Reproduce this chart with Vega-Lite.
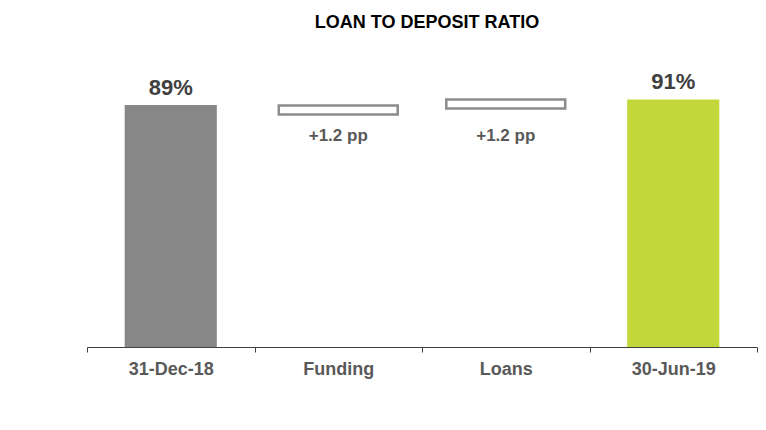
{
  "$schema": "https://vega.github.io/schema/vega-lite/v6.json",
  "width": 670,
  "height": 272,
  "autosize": {"type": "none"},
  "padding": {"left": 87, "right": 9, "top": 75, "bottom": 83},
  "background": "white",
  "title": {
    "text": "LOAN TO DEPOSIT RATIO",
    "font": "Liberation Sans",
    "fontSize": 18,
    "fontWeight": "bold",
    "color": "#000000",
    "anchor": "middle",
    "baseline": "alphabetic",
    "offset": 25,
    "dx": 5
  },
  "config": {"view": {"stroke": null}},
  "data": {
    "values": [
      {"cat": "31-Dec-18", "kind": "total", "lo": 0, "hi": 89, "label": "89%"},
      {"cat": "Funding", "kind": "step", "lo": 85.5, "hi": 88.8, "label": "+1.2 pp"},
      {"cat": "Loans", "kind": "step", "lo": 87.7, "hi": 91.0, "label": "+1.2 pp"},
      {"cat": "30-Jun-19", "kind": "total", "lo": 0, "hi": 91, "label": "91%"}
    ]
  },
  "encoding": {
    "x": {
      "field": "cat",
      "type": "nominal",
      "sort": ["31-Dec-18", "Funding", "Loans", "30-Jun-19"],
      "scale": {"paddingInner": 0, "paddingOuter": 0},
      "axis": {
        "title": null,
        "labelAngle": 0,
        "labelFont": "Liberation Sans",
        "labelFontSize": 18,
        "labelFontWeight": "bold",
        "labelColor": "#595959",
        "labelPadding": 8,
        "tickBand": "extent",
        "tickSize": 5,
        "tickColor": "#404040",
        "domainColor": "#404040",
        "grid": false
      }
    }
  },
  "layer": [
    {
      "transform": [{"filter": "datum.kind === 'total'"}],
      "mark": {"type": "bar", "width": {"band": 0.55}},
      "encoding": {
        "y": {"field": "lo", "type": "quantitative", "scale": {"domain": [0, 100]}, "axis": null},
        "y2": {"field": "hi"},
        "color": {
          "field": "cat",
          "type": "nominal",
          "scale": {"domain": ["31-Dec-18", "30-Jun-19"], "range": ["#878787", "#C1D73A"]},
          "legend": null
        }
      }
    },
    {
      "transform": [{"filter": "datum.kind === 'step'"}],
      "mark": {"type": "bar", "width": {"band": 0.71}, "fill": "white", "stroke": "#8C8C8C", "strokeWidth": 2.5},
      "encoding": {
        "y": {"field": "lo", "type": "quantitative"},
        "y2": {"field": "hi"}
      }
    },
    {
      "transform": [{"filter": "datum.kind === 'total'"}],
      "mark": {"type": "text", "font": "Liberation Sans", "fontSize": 22, "fontWeight": "bold", "color": "#404040", "baseline": "alphabetic", "dy": -10},
      "encoding": {
        "y": {"field": "hi", "type": "quantitative"},
        "text": {"field": "label"}
      }
    },
    {
      "transform": [{"filter": "datum.kind === 'step'"}],
      "mark": {"type": "text", "font": "Liberation Sans", "fontSize": 17, "fontWeight": "bold", "color": "#595959", "baseline": "alphabetic", "dy": 36},
      "encoding": {
        "y": {"datum": 89, "type": "quantitative"},
        "text": {"field": "label"}
      }
    }
  ]
}
